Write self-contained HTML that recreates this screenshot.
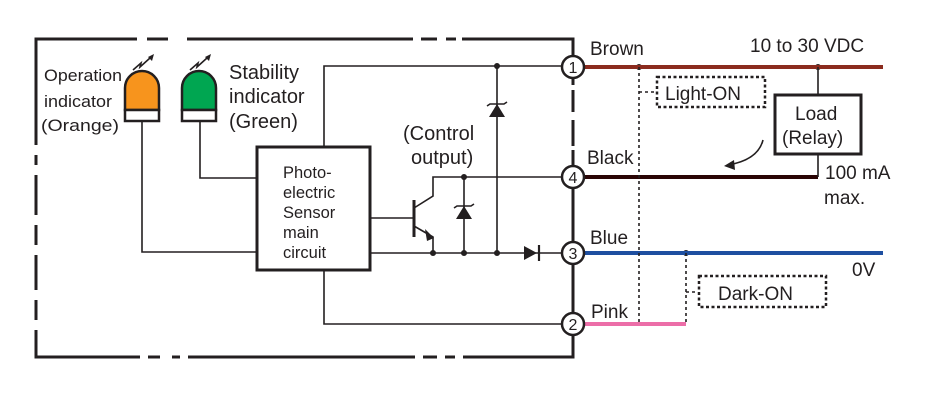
<!DOCTYPE html>
<html><head><meta charset="utf-8"><style>
html,body{margin:0;padding:0;background:#fff;width:949px;height:414px;overflow:hidden}
svg{display:block}
text{font-family:"Liberation Sans",sans-serif;fill:#231f20}
</style></head><body>
<svg width="949" height="414" viewBox="0 0 949 414" xmlns="http://www.w3.org/2000/svg">
<g stroke="#231f20" stroke-width="3" fill="none">
<path d="M36,145V39H137M147,39H168M187,39H413M421,39H437M446,39H456M462,39H573V85"/>
<path d="M573,90V112M573,120V146M573,150V357H463M455,357H445M437,357H423M415,357H188M180,357H172M160,357H148M140,357H36V330"/>
<path d="M36,320V300M36,290V255M36,245V225M36,215V175M36,165V155"/>
<rect x="257" y="147" width="113" height="123"/>
</g>
<g stroke="#231f20" stroke-width="1.6" fill="none">
<path d="M142,121V252H257"/>
<path d="M200,121V178H257"/>
<path d="M324,147V66H562"/>
<path d="M324,270V324H562"/>
<path d="M370,218H414"/>
<path d="M370,253H562"/>
<path d="M414,200V237" stroke-width="3"/>
<path d="M414,208L433,196V177H562"/>
<path d="M414,226L433,237V253"/>
<path d="M464,177V253"/>
<path d="M497,66V253"/>
</g>
<path d="M425,229L434,238L427,241z" fill="#231f20"/>
<path d="M456,219L472,219L464,206z" fill="#231f20"/>
<path d="M454,208L457,206H471L474,204" stroke="#231f20" stroke-width="1.6" fill="none"/>
<path d="M489,117L505,117L497,104z" fill="#231f20"/>
<path d="M487,106L490,104H504L507,102" stroke="#231f20" stroke-width="1.6" fill="none"/>
<path d="M524,246V260L537,253z" fill="#231f20"/>
<path d="M539,245V261" stroke="#231f20" stroke-width="2.2"/>
<g fill="#231f20">
<circle cx="433" cy="253" r="3"/><circle cx="464" cy="253" r="3"/><circle cx="497" cy="253" r="3"/>
<circle cx="464" cy="177" r="3"/><circle cx="497" cy="66" r="3"/>
<circle cx="639" cy="67" r="3"/><circle cx="818" cy="67" r="3"/><circle cx="686" cy="253" r="3"/>
</g>
<path d="M125,110V88A17,17 0 0 1 159,88V110z" fill="#f7941d" stroke="#231f20" stroke-width="2.5"/>
<rect x="125" y="110" width="34" height="11" fill="#fff" stroke="#231f20" stroke-width="2.5"/>
<path d="M182,110V88A17,17 0 0 1 216,88V110z" fill="#00a651" stroke="#231f20" stroke-width="2.5"/>
<rect x="182" y="110" width="34" height="11" fill="#fff" stroke="#231f20" stroke-width="2.5"/>
<g stroke="#231f20" stroke-width="1.6" fill="none">
<path d="M133,70L141,63L140,67L150,58"/>
<path d="M190,70L198,63L197,67L207,58"/>
</g>
<path d="M154,54L148,57L152,61z" fill="#231f20"/>
<path d="M211,54L205,57L209,61z" fill="#231f20"/>
<g stroke-width="4" fill="none">
<path d="M584,67H883" stroke="#8b2b1e"/>
<path d="M584,177H818" stroke="#2a0505"/>
<path d="M584,253H883" stroke="#1e4fa0"/>
<path d="M584,324H686" stroke="#ec6ea8"/>
</g>
<g stroke="#231f20" stroke-width="1.6" fill="none">
<path d="M818,67V95M818,154V177"/>
<rect x="775" y="95" width="86" height="59" stroke-width="3"/>
<path d="M763,140Q758,160 728,165"/>
</g>
<path d="M724,166L734,160L735,170z" fill="#231f20"/>
<g stroke="#231f20" stroke-width="1.6" fill="none" stroke-dasharray="3,3">
<path d="M639,67V324"/>
<path d="M686,253V324"/>
<path d="M639,92H655M686,292H698"/>
</g>
<g stroke="#231f20" stroke-width="2.5" fill="none" stroke-dasharray="3,2.5">
<rect x="657" y="77" width="108" height="30"/>
<rect x="699" y="276" width="127" height="31"/>
</g>
<g fill="#fff" stroke="#231f20" stroke-width="2.5">
<circle cx="573" cy="67" r="11"/><circle cx="573" cy="177" r="11"/>
<circle cx="573" cy="253" r="11"/><circle cx="573" cy="324" r="11"/>
</g>
<g font-size="16" text-anchor="middle">
<text x="573" y="73">1</text><text x="573" y="183">4</text>
<text x="573" y="259">3</text><text x="573" y="330">2</text>
</g>
<g font-size="17">
<text x="44" y="81" textLength="78" lengthAdjust="spacingAndGlyphs">Operation</text>
<text x="44" y="107" textLength="68" lengthAdjust="spacingAndGlyphs">indicator</text>
<text x="41" y="131" textLength="78" lengthAdjust="spacingAndGlyphs">(Orange)</text>
</g>
<g font-size="20">
<text x="229" y="79">Stability</text>
<text x="229" y="103">indicator</text>
<text x="229" y="128">(Green)</text>
<text x="403" y="140">(Control</text>
<text x="411" y="164">output)</text>
</g>
<g font-size="16.5">
<text x="283" y="178">Photo-</text>
<text x="283" y="198">electric</text>
<text x="283" y="218">Sensor</text>
<text x="283" y="238">main</text>
<text x="283" y="258">circuit</text>
</g>
<g font-size="19">
<text x="590" y="55">Brown</text>
<text x="750" y="52">10 to 30 VDC</text>
<text x="665" y="100">Light-ON</text>
<text x="795" y="120">Load</text>
<text x="782" y="144">(Relay)</text>
<text x="587" y="164">Black</text>
<text x="825" y="179">100 mA</text>
<text x="824" y="204">max.</text>
<text x="590" y="244">Blue</text>
<text x="852" y="276">0V</text>
<text x="718" y="300">Dark-ON</text>
<text x="591" y="318">Pink</text>
</g>
</svg>
</body></html>
